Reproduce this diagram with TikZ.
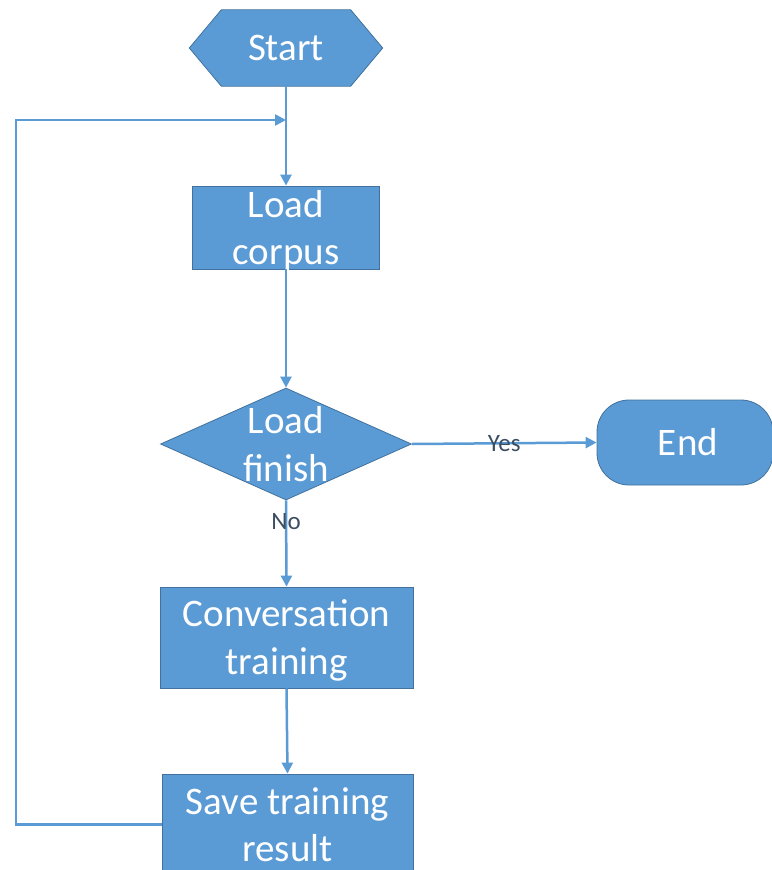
\documentclass[tikz,border=0pt]{standalone}
\usepackage{fontspec}
\setmainfont{Carlito}
\usetikzlibrary{arrows.meta,shapes.geometric,calc}
\definecolor{fillb}{HTML}{5B9BD5}
\definecolor{edgeb}{HTML}{41719C}
\definecolor{labc}{HTML}{3B4E63}
\begin{document}
\begin{tikzpicture}[x=1pt,y=-1pt,
  shp/.style={draw=edgeb, fill=fillb, line width=0.8pt, inner sep=0pt},
  txt/.style={text=white, align=center, inner sep=0pt, font=\fontsize{39}{47.5}\selectfont},
  boxn/.style={shp, rectangle},
  arr/.style={draw=fillb, line width=2.5pt, -{Triangle[length=11pt,width=11pt]}},
  ln/.style={draw=fillb, line width=2.5pt},
  lab/.style={text=labc, inner sep=0pt, font=\fontsize{25}{29}\selectfont}]
\useasboundingbox (0,0) rectangle (771,870);
% Start (hexagon)
\node[inner sep=0pt, minimum width=193pt, minimum height=76pt] (start) at (286,48) {};
\fill[fillb, draw=edgeb, line width=0.8pt] (start.west) -- ($(start.north west)+(32pt,0)$) -- ($(start.north east)+(-32pt,0)$) -- (start.east) -- ($(start.south east)+(-32pt,0)$) -- ($(start.south west)+(32pt,0)$) -- cycle;
\node[txt] (startt) at (start) {Start};
% Load corpus
\node[boxn, minimum width=187pt, minimum height=83pt, label={[txt, yshift=-3pt]center:Load\\corpus}] (load) at (286,227.5) {};
% Decision
\node[shp, diamond, minimum width=251pt, minimum height=112pt, label={[txt]center:Load\\finish}] (dec) at (286,444) {};
% End
\node[shp, rectangle, rounded corners=32pt, minimum width=176pt, minimum height=85pt] (end) at (685,442.5) {};
\node[txt] (endt) at (688,442.5) {End};
% Conversation training
\node[boxn, minimum width=253pt, minimum height=101pt, label={[txt, yshift=-3pt]center:Conversation\\training}] (conv) at (286.5,637.5) {};
% Save training result
\node[boxn, minimum width=251pt, minimum height=101pt, label={[txt]center:Save training\\result}] (save) at (287.5,824.5) {};
% connectors
\coordinate (loopc) at (16,120);
\coordinate (join) at (286,120);
\draw[ln] (start.south) -- (join);
\draw[arr] (join) -- (load.north);
\draw[arr] (load.south) -- (dec.north);
\draw[arr] (dec.east) -- node[lab, pos=0.5] (yes) {Yes} (end.west);
\draw[arr] (dec.south) -- node[lab, pos=0.25] (no) {No} (conv.north);
\draw[arr] (conv.south) -- (save.north);
\draw[arr] (save.west) -| (loopc) -- (join);
\end{tikzpicture}
\end{document}
